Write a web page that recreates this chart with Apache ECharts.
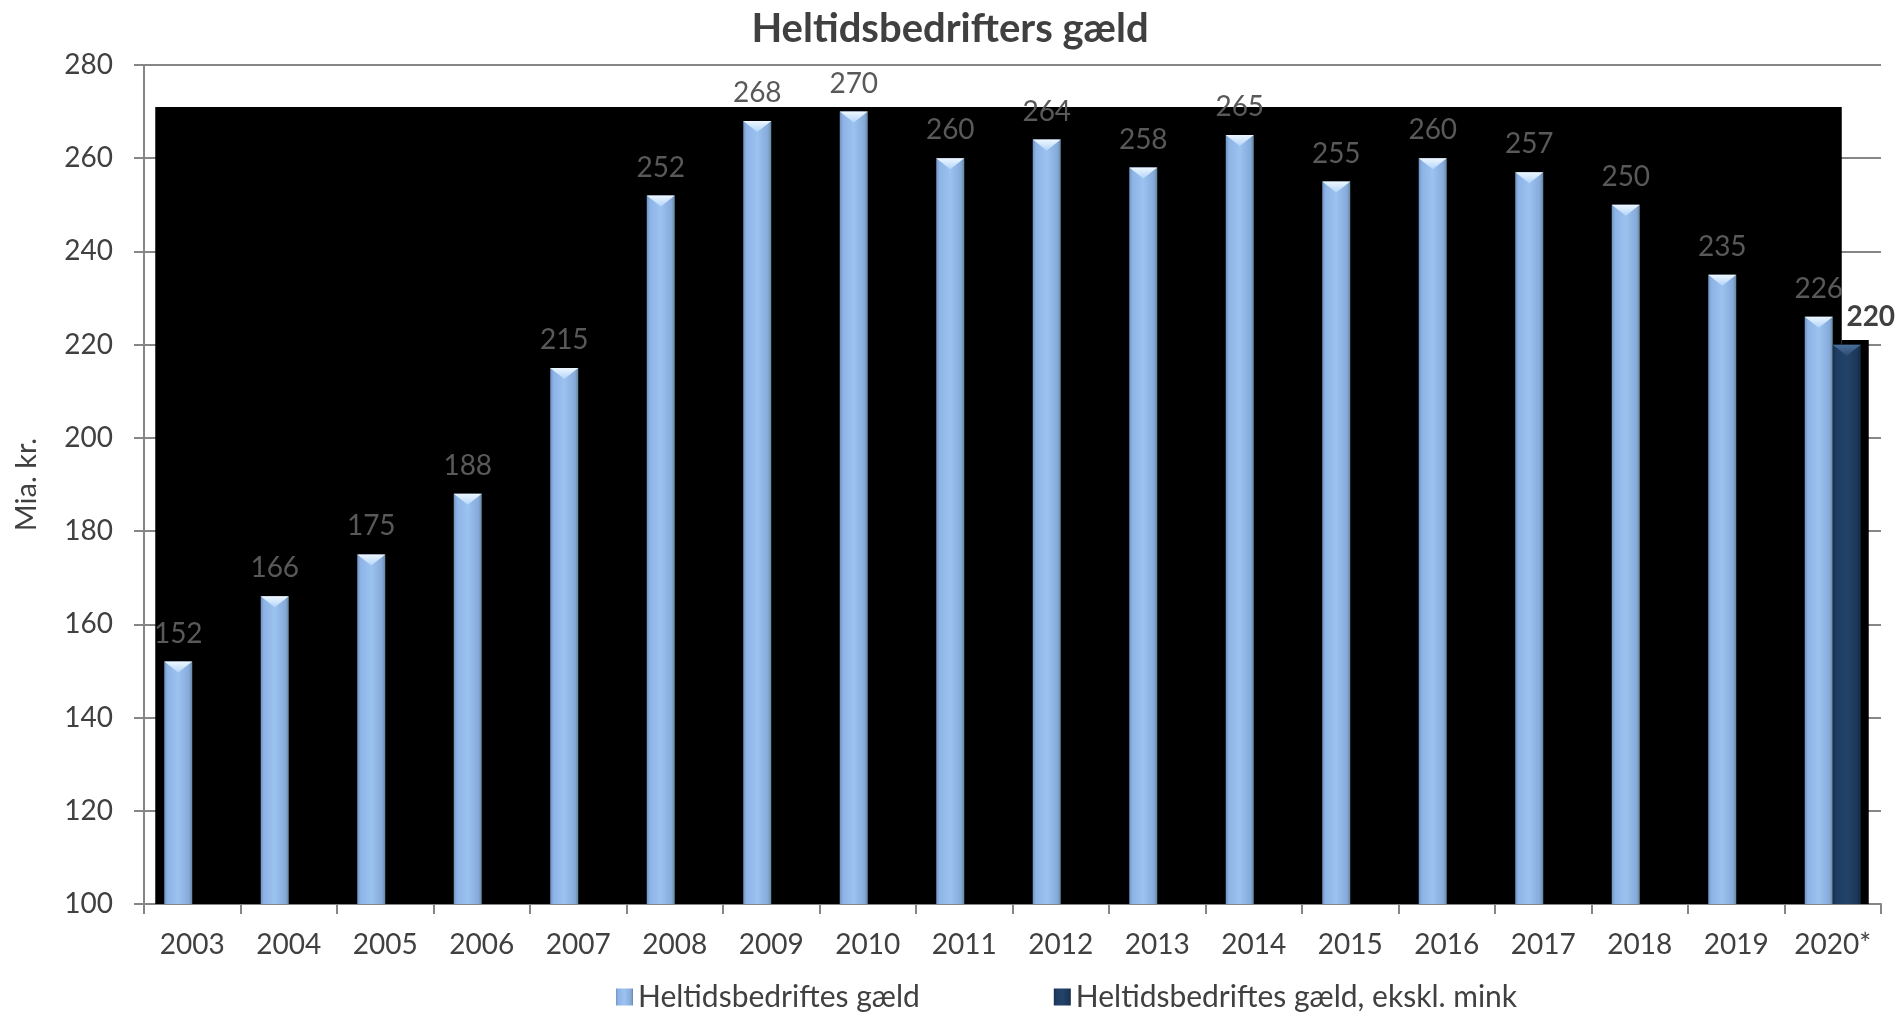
<!DOCTYPE html>
<html>
<head>
<meta charset="utf-8">
<title>Heltidsbedrifters gæld</title>
<script src="https://cdn.jsdelivr.net/npm/echarts@6/dist/echarts.min.js"></script>
<style>
  html, body { margin: 0; padding: 0; background: #fff; }
  #chart { width: 1900px; height: 1015px; }
</style>
</head>
<body>
<div id="chart"></div>
<script>
// data
const years = ['2003', '2004', '2005', '2006', '2007', '2008', '2009', '2010', '2011',
  '2012', '2013', '2014', '2015', '2016', '2017', '2018', '2019', '2020*']
const gaeld = [152, 166, 175, 188, 215, 252, 268, 270, 260, 264, 258, 265, 255, 260, 257, 250, 235, 226]
const gaeldEksklMink = [null, null, null, null, null, null, null, null, null,
  null, null, null, null, null, null, null, null, 220]
const yTicks = { min: 100, max: 280, interval: 20 }

const FONT = 'Lato, "Open Sans", sans-serif'
const BAR_W = 28

// den sorte blok bag søjlerne, følger søjletoppene
const lastIdx = years.length - 1
const shadowPieces = [
  [0, lastIdx, Math.max(...gaeld) + 1, 0],
  [lastIdx, lastIdx, gaeldEksklMink[lastIdx] + 1, 1]
]

function renderShadow(params, api) {
  const from = api.coord([api.value(0), yTicks.min])
  const to = api.coord([api.value(1), api.value(2)])
  const second = api.value(3) === 1
  const x0 = second ? from[0] + 9 : from[0] - BAR_W - 9
  const x1 = second ? to[0] + BAR_W + 8 : to[0] + 9
  return {
    type: 'rect',
    shape: { x: x0, y: to[1], width: x1 - x0, height: from[1] - to[1] },
    style: { fill: '#000' }
  }
}

const lightBar = {
  type: 'linear', x: 0, y: 0, x2: 1, y2: 0,
  colorStops: [
    { offset: 0, color: '#7094c4' },
    { offset: 0.12, color: '#8db4e6' },
    { offset: 0.5, color: '#9cc2f0' },
    { offset: 0.88, color: '#86abdb' },
    { offset: 1, color: '#66889f' }
  ]
}
const darkBar = {
  type: 'linear', x: 0, y: 0, x2: 1, y2: 0,
  colorStops: [
    { offset: 0, color: '#17304f' },
    { offset: 0.15, color: '#1f3d63' },
    { offset: 0.5, color: '#234369' },
    { offset: 0.85, color: '#1c3859' },
    { offset: 1, color: '#132a45' }
  ]
}

// skrå "facet" øverst på søjlerne
const BEVEL = 'path://M0,0 L10,0 L5,4 Z'
function bevelSeries(data, dx, top, bottom) {
  return {
    type: 'pictorialBar', data, silent: true, z: 4,
    symbol: BEVEL, symbolSize: [BAR_W, 11],
    symbolPosition: 'end', symbolOffset: [dx, 0],
    itemStyle: {
      color: {
        type: 'linear', x: 0, y: 0, x2: 0, y2: 1,
        colorStops: [{ offset: 0, color: top }, { offset: 1, color: bottom }]
      }
    }
  }
}

const chart = echarts.init(document.getElementById('chart'))
chart.setOption({
  animation: false,
  title: {
    text: 'Heltidsbedrifters gæld',
    left: 'center', top: 4,
    textStyle: { fontFamily: FONT, fontSize: 40, fontWeight: 'bold', color: '#404040' }
  },
  grid: { left: 144, right: 19, top: 65, bottom: 111, containLabel: false },
  legend: {
    bottom: -2, left: 611,
    itemWidth: 17, itemHeight: 17, itemGap: 134,
    icon: 'rect',
    data: ['Heltidsbedriftes gæld', 'Heltidsbedriftes gæld, ekskl. mink'],
    textStyle: { fontFamily: FONT, fontSize: 30, color: '#404040' }
  },
  xAxis: {
    type: 'category', data: years,
    axisLine: { lineStyle: { color: '#868686', width: 2 } },
    axisTick: { show: true, length: 10, lineStyle: { color: '#868686', width: 2 } },
    axisLabel: { interval: 0, margin: 27, fontFamily: FONT, fontSize: 28, color: '#404040' }
  },
  yAxis: {
    type: 'value', min: yTicks.min, max: yTicks.max, interval: yTicks.interval,
    name: 'Mia. kr.', nameLocation: 'middle', nameGap: 103, nameRotate: 90,
    nameTextStyle: { fontFamily: FONT, fontSize: 29, color: '#404040' },
    axisLine: { show: true, lineStyle: { color: '#868686', width: 2 } },
    axisTick: { show: true, length: 10, lineStyle: { color: '#868686', width: 2 } },
    axisLabel: { margin: 31, fontFamily: FONT, fontSize: 28, color: '#404040' },
    splitLine: { lineStyle: { color: '#868686', width: 2 } }
  },
  series: [
    {
      type: 'custom', name: 'shadow', renderItem: renderShadow,
      data: shadowPieces, z: 1, silent: true, clip: false,
      encode: { x: 0, y: 2 }
    },
    {
      name: 'Heltidsbedriftes gæld', type: 'bar', data: gaeld,
      barWidth: BAR_W, barGap: '0%', z: 3,
      itemStyle: { color: lightBar },
      label: {
        show: true, position: 'top', distance: 14,
        fontFamily: FONT, fontSize: 28, color: '#595959'
      }
    },
    {
      name: 'Heltidsbedriftes gæld, ekskl. mink', type: 'bar', data: gaeldEksklMink,
      barWidth: BAR_W, barGap: '0%', z: 3,
      itemStyle: { color: darkBar },
      label: {
        show: true, position: 'top', distance: 14, offset: [24, 0],
        fontFamily: FONT, fontSize: 28, fontWeight: 'bold', color: '#404040'
      }
    },
    bevelSeries(gaeld, -BAR_W / 2, '#eef7ff', '#b3d5fa'),
    bevelSeries(gaeldEksklMink, BAR_W / 2, '#4a6f9a', '#2c4c74')
  ]
})
</script>
</body>
</html>
